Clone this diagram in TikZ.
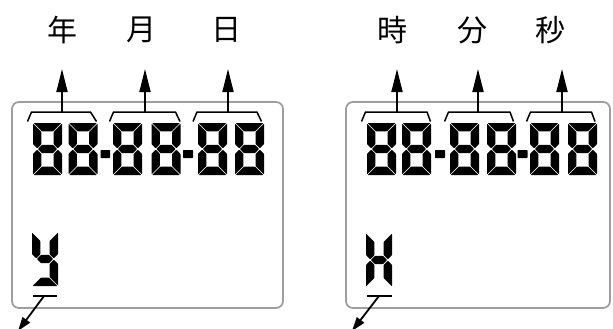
\documentclass[tikz,border=0pt]{standalone}
\usepackage{fontspec}
\newfontfamily\cjk{Noto Sans CJK JP}
\usetikzlibrary{arrows.meta}
\def\dW{29}\def\dH{52}\def\dT{8.4}\def\dG{0.7}
% segments, origin at top-left of the digit
\newcommand\sgA{\fill[segfill] (\dG,0) -- ({\dW-\dG},0) -- ({\dW-\dT-\dG},\dT) -- ({\dT+\dG},\dT) -- cycle;}
\newcommand\sgD{\fill[segfill] (\dG,\dH) -- ({\dW-\dG},\dH) -- ({\dW-\dT-\dG},{\dH-\dT}) -- ({\dT+\dG},{\dH-\dT}) -- cycle;}
\newcommand\sgF{\fill[segfill] (0,\dG) -- (\dT,{\dT+\dG}) -- (\dT,{\dH/2-\dT/2-\dG}) -- ({\dT/2},{\dH/2-\dG}) -- (0,{\dH/2-\dT/2-\dG}) -- cycle;}
\newcommand\sgB{\fill[segfill] (\dW,\dG) -- ({\dW-\dT},{\dT+\dG}) -- ({\dW-\dT},{\dH/2-\dT/2-\dG}) -- ({\dW-\dT/2},{\dH/2-\dG}) -- (\dW,{\dH/2-\dT/2-\dG}) -- cycle;}
\newcommand\sgE{\fill[segfill] (0,{\dH-\dG}) -- (\dT,{\dH-\dT-\dG}) -- (\dT,{\dH/2+\dT/2+\dG}) -- ({\dT/2},{\dH/2+\dG}) -- (0,{\dH/2+\dT/2+\dG}) -- cycle;}
\newcommand\sgC{\fill[segfill] (\dW,{\dH-\dG}) -- ({\dW-\dT},{\dH-\dT-\dG}) -- ({\dW-\dT},{\dH/2+\dT/2+\dG}) -- ({\dW-\dT/2},{\dH/2+\dG}) -- (\dW,{\dH/2+\dT/2+\dG}) -- cycle;}
\newcommand\sgG{\fill[segfill] ({\dT/2+\dG},{\dH/2}) -- ({\dT+\dG},{\dH/2-\dT/2}) -- ({\dW-\dT-\dG},{\dH/2-\dT/2}) -- ({\dW-\dT/2-\dG},{\dH/2}) -- ({\dW-\dT-\dG},{\dH/2+\dT/2}) -- ({\dT+\dG},{\dH/2+\dT/2}) -- cycle;}
\newcommand\digeight[2]{\begin{scope}[shift={(#1,#2)}]\sgA\sgB\sgC\sgD\sgE\sgF\sgG\end{scope}}
\newcommand\digy[2]{\begin{scope}[shift={(#1,#2)}]\sgB\sgC\sgD\sgF\sgG\end{scope}}
\newcommand\digH[2]{\begin{scope}[shift={(#1,#2)}]\sgB\sgC\sgE\sgF\sgG\end{scope}}
\newcommand\lcddash[2]{\fill[segfill] (#1,150) rectangle (#2,158);}
\begin{document}
\begin{tikzpicture}[x=1pt,y=-1pt,
  segfill/.style={black,rounded corners=0.6pt},
  lcdbox/.style={draw=black!38,line width=1.8pt,rounded corners=7pt},
  brace/.style={draw,line width=1.5pt,line join=round},
  uparrow/.style={draw,line width=1.8pt,-{Triangle[length=23pt,width=11pt]}},
  downarrow/.style={draw,line width=1.8pt,-{Triangle[length=14pt,width=9pt]}},
  label/.style={font=\cjk\fontsize{30}{30}\selectfont,inner sep=0pt,anchor=center}]
\useasboundingbox (0,0) rectangle (613,329);
% boxes
\draw[lcdbox] (12,102) rectangle (283,308);
\draw[lcdbox] (346,102) rectangle (610,308);
% labels
\node[label] (nen) at (62,30) {年};
\node[label] (tsuki) at (141,30) {月};
\node[label] (hi) at (226,30) {日};
\node[label] (ji) at (392,30) {時};
\node[label] (fun) at (472,30) {分};
\node[label] (byo) at (550,30) {秒};
% left display digits
\digeight{33}{123}\digeight{68.5}{123}
\lcddash{100.5}{110}
\digeight{113}{123}\digeight{151.5}{123}
\lcddash{183}{193}
\digeight{198}{123}\digeight{235}{123}
% right display digits
\digeight{367}{123}\digeight{402}{123}
\lcddash{435}{445}
\digeight{450}{123}\digeight{487}{123}
\lcddash{517.5}{527.5}
\digeight{530}{123}\digeight{568}{123}
% braces and arrows, left
\draw[brace] (27.5,121.5) -- (31.5,112) -- (90.5,112) -- (96.5,121.5);
\draw[brace] (109.5,121.5) -- (113.5,112) -- (175.5,112) -- (180,121.5);
\draw[brace] (193,121.5) -- (197,112) -- (257,112) -- (261.5,121.5);
\coordinate (b1) at (62,112); \coordinate (t1) at (62,69);
\coordinate (b2) at (145,112); \coordinate (t2) at (145,69);
\coordinate (b3) at (228,112); \coordinate (t3) at (228,69);
\draw[uparrow] (b1) -- (t1);
\draw[uparrow] (b2) -- (t2);
\draw[uparrow] (b3) -- (t3);
% braces and arrows, right
\draw[brace] (361.5,121.5) -- (365.5,112) -- (427,112) -- (430.5,121.5);
\draw[brace] (444.5,121.5) -- (448.5,112) -- (510,112) -- (513.5,121.5);
\draw[brace] (526.5,121.5) -- (530.5,112) -- (591.5,112) -- (595,121.5);
\coordinate (b4) at (397,112); \coordinate (t4) at (397,69);
\coordinate (b5) at (478,112); \coordinate (t5) at (478,69);
\coordinate (b6) at (562,112); \coordinate (t6) at (562,69);
\draw[uparrow] (b4) -- (t4);
\draw[uparrow] (b5) -- (t5);
\draw[uparrow] (b6) -- (t6);
% bottom characters
\def\dW{26}\def\dH{54}
\digy{32}{232}
\digH{366}{233}
\draw[line width=1.6pt] (33,296) -- (57,296);
\draw[line width=1.6pt] (367,296) -- (392,296);
\coordinate (u1) at (44,296); \coordinate (e1) at (18,331);
\coordinate (u2) at (379,296); \coordinate (e2) at (352,331);
\draw[downarrow] (u1) -- (e1);
\draw[downarrow] (u2) -- (e2);
\end{tikzpicture}
\end{document}
